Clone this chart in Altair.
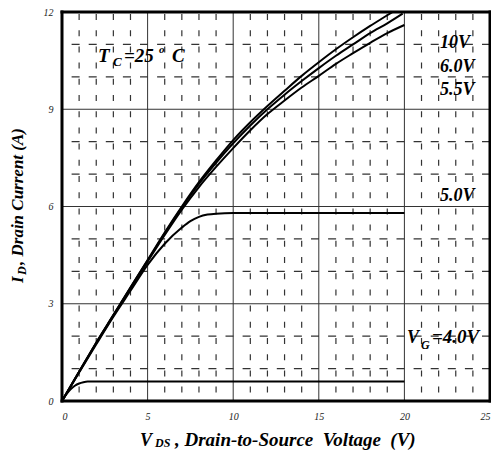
import altair as alt
import pandas as pd

# ---- data ----
x_ticks = [0, 5, 10, 15, 20, 25]
y_ticks = [0, 3, 6, 9, 12]
x_minor = [v for v in range(1, 25) if v % 5 != 0]
y_minor = [v for v in range(1, 12) if v % 3 != 0]
x_major = [5, 10, 15, 20]
y_major = [3, 6, 9]

vds_10 = [0, 1, 2, 3, 4, 5, 6, 7, 8, 9, 10, 11, 12, 13, 14, 15, 16, 17, 18, 19, 19.3]
id_10 = [0, 0.9, 1.8, 2.65, 3.5, 4.35, 5.2, 6.0, 6.75, 7.42, 8.05, 8.6, 9.1, 9.57, 10.03, 10.45, 10.85, 11.22, 11.57, 11.9, 12.0]

vds_60 = [0, 1, 2, 3, 4, 5, 6, 7, 8, 9, 10, 11, 12, 13, 14, 15, 16, 17, 18, 19, 19.9]
id_60 = [0, 0.9, 1.8, 2.65, 3.5, 4.33, 5.17, 5.97, 6.7, 7.35, 7.95, 8.5, 9.0, 9.45, 9.87, 10.27, 10.65, 11.0, 11.35, 11.65, 11.95]

vds_55 = [0, 1, 2, 3, 4, 5, 6, 7, 8, 9, 10, 11, 12, 13, 14, 15, 16, 17, 18, 19, 20]
id_55 = [0, 0.9, 1.78, 2.63, 3.47, 4.3, 5.12, 5.9, 6.6, 7.22, 7.8, 8.35, 8.85, 9.27, 9.67, 10.03, 10.4, 10.73, 11.05, 11.35, 11.6]

vds_50 = [0, 1, 2, 3, 4, 5, 6, 7, 7.5, 8, 8.5, 9, 10, 15, 20]
id_50 = [0, 0.88, 1.75, 2.6, 3.4, 4.2, 4.85, 5.35, 5.55, 5.68, 5.75, 5.78, 5.8, 5.8, 5.8]

vds_40 = [0, 0.25, 0.5, 0.75, 1.0, 1.25, 1.5, 5, 10, 15, 20]
id_40 = [0, 0.2, 0.36, 0.47, 0.54, 0.58, 0.6, 0.6, 0.6, 0.6, 0.6]

series = [("10V", vds_10, id_10), ("6.0V", vds_60, id_60), ("5.5V", vds_55, id_55),
          ("5.0V", vds_50, id_50), ("4.0V", vds_40, id_40)]

# in-plot labels (data coordinates)
lab_text = ["10V", "6.0V", "5.5V", "5.0V"]
lab_x = [22.08, 22.08, 22.08, 22.08]
lab_y = [10.89, 10.15, 9.44, 6.17]

W, H = 428, 389
FONT = "Liberation Serif"
NB = "\u00a0"

rows = []
for name, xs_, ys_ in series:
    for i, (a, b) in enumerate(zip(xs_, ys_)):
        rows.append({"vg": name, "vds": a, "id": b, "o": i})
curves_df = pd.DataFrame(rows)

xs = alt.Scale(domain=[0, 25], nice=False, zero=False)
ys = alt.Scale(domain=[0, 12], nice=False, zero=False)

base_axes = alt.Chart(pd.DataFrame({"vds": [0, 25], "id": [0, 12]})).mark_point(opacity=0).encode(
    x=alt.X("vds:Q", scale=xs, title=None,
            axis=alt.Axis(values=x_ticks, grid=False, ticks=False, domain=False,
                          labelFont=FONT, labelFontStyle="italic", labelFontSize=10,
                          labelColor="#222", labelPadding=10)),
    y=alt.Y("id:Q", scale=ys, title=None,
            axis=alt.Axis(values=y_ticks, grid=False, ticks=False, domain=False,
                          labelFont=FONT, labelFontStyle="italic", labelFontSize=10,
                          labelColor="#222", labelPadding=9)),
)

vminor = alt.Chart(pd.DataFrame({"v": x_minor})).mark_rule(
    color="#333", strokeWidth=1.2, strokeDash=[6, 10.2], strokeDashOffset=-2).encode(x=alt.X("v:Q", scale=xs))
hminor = alt.Chart(pd.DataFrame({"v": y_minor})).mark_rule(
    color="#333", strokeWidth=1.2, strokeDash=[8, 9.1]).encode(y=alt.Y("v:Q", scale=ys))
vmajor = alt.Chart(pd.DataFrame({"v": x_major})).mark_rule(
    color="#333", strokeWidth=1).encode(x=alt.X("v:Q", scale=xs))
hmajor = alt.Chart(pd.DataFrame({"v": y_major})).mark_rule(
    color="#333", strokeWidth=1).encode(y=alt.Y("v:Q", scale=ys))


def edge(**enc):
    return alt.Chart(pd.DataFrame({"a": [0]})).mark_rule(
        color="black", strokeWidth=3, strokeCap="square").encode(**enc)


frame = [edge(x=alt.value(0), x2=alt.value(W), y=alt.value(0)),
         edge(x=alt.value(0), x2=alt.value(W), y=alt.value(H)),
         edge(x=alt.value(0), y=alt.value(0), y2=alt.value(H)),
         edge(x=alt.value(W), y=alt.value(0), y2=alt.value(H))]

curves = alt.Chart(curves_df).mark_line(color="black", strokeWidth=2, interpolate="monotone").encode(
    x=alt.X("vds:Q", scale=xs), y=alt.Y("id:Q", scale=ys), detail="vg:N", order="o:Q")

labels = alt.Chart(pd.DataFrame({"t": lab_text, "x": lab_x, "y": lab_y})).mark_text(
    font=FONT, fontStyle="italic", fontWeight="bold", fontSize=18, align="left",
    baseline="alphabetic", color="black").encode(
    x=alt.X("x:Q", scale=xs), y=alt.Y("y:Q", scale=ys), text="t:N")


def txt(t, x, y, size=17, dx=0, dy=0, pixel=False, angle=0, align="left"):
    if pixel:
        enc = dict(x=alt.value(x), y=alt.value(y), text=alt.value(t))
    else:
        enc = dict(x=alt.X("x:Q", scale=xs), y=alt.Y("y:Q", scale=ys), text=alt.value(t))
    return alt.Chart(pd.DataFrame({"x": [x], "y": [y]})).mark_text(
        font=FONT, fontStyle="italic", fontWeight="bold", fontSize=size, align=align,
        baseline="alphabetic", color="black", dx=dx, dy=dy, angle=angle).encode(**enc)


# V_G = 4.0V label
vg = [txt("V", 20.15, 1.8, size=18), txt("G", 20.15, 1.8, size=12, dx=14, dy=6),
      txt("=4.0V", 20.15, 1.8, size=19, dx=25)]
# T_C = 25 o C
tc = [txt("T", 2.10, 10.46, size=19), txt("C", 2.10, 10.46, size=13, dx=15, dy=4),
      txt("=25", 2.10, 10.46, size=19, dx=26), txt("o", 2.10, 10.46, size=11, dx=61, dy=-9),
      txt("C", 2.10, 10.46, size=19, dx=74)]
# axis titles (pixel positions relative to the plot area)
xtitle = "," + NB + "Drain-to-Source" + NB + NB + "Voltage" + NB + NB + "(V)"
xt = [txt("V", 78, 434, size=18, pixel=True), txt("DS", 93, 435, size=12, pixel=True),
      txt(xtitle, 113, 434, size=19, pixel=True)]
yt = [txt("I", -39, 271, size=17, pixel=True, angle=270),
      txt("D", -36, 263, size=12, pixel=True, angle=270),
      txt(", Drain Current (A)", -39, 253, size=17, pixel=True, angle=270)]

chart = alt.layer(base_axes, vminor, hminor, vmajor, hmajor, curves, *frame, labels,
                  *vg, *tc, *xt, *yt).properties(
    width=W, height=H, autosize=alt.AutoSizeParams(type="none"),
    padding={"left": 54, "top": 4, "right": 1, "bottom": 49},
    background="white",
).configure_view(stroke=None)

chart.save("out.html", embed_options={"renderer": "svg", "actions": False})
